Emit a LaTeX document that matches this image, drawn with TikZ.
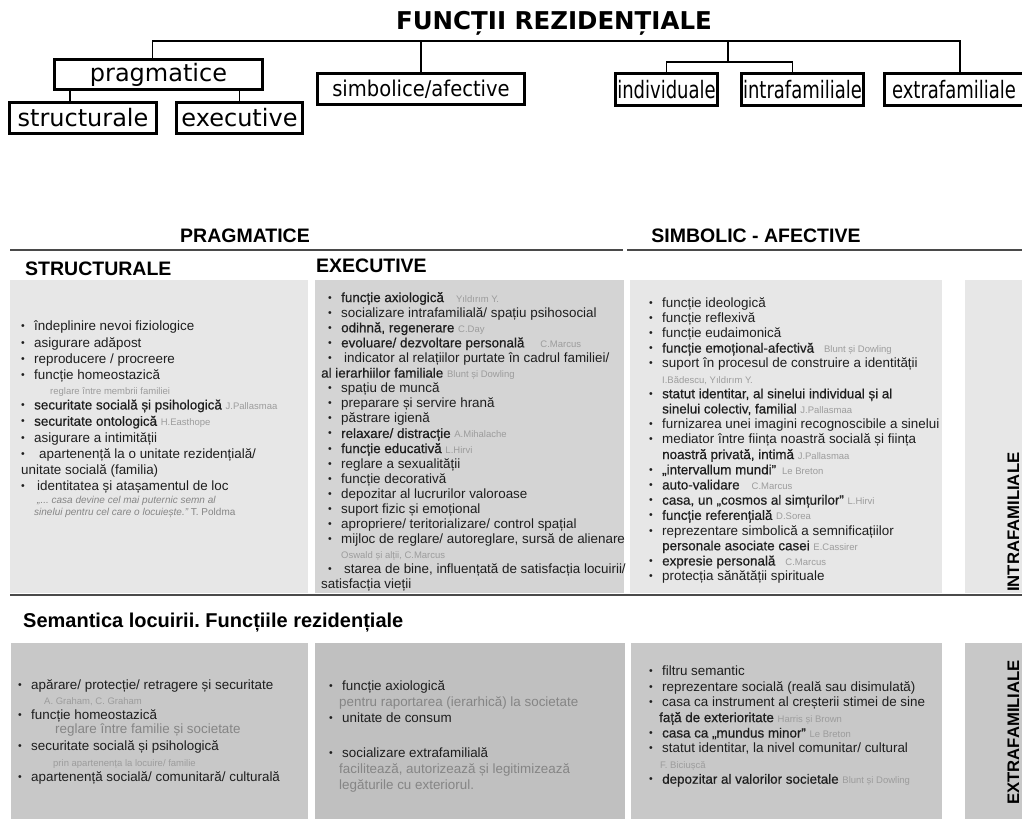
\documentclass[tikz,border=0pt]{standalone}
\usepackage{fontspec}
\setmainfont{Liberation Sans}
\newfontfamily\dvsans{DejaVu Sans}
\newfontfamily\dvcond[FakeStretch=0.9]{DejaVu Sans}
\newfontfamily\dvnarrow[FakeStretch=0.75]{DejaVu Sans}
\newfontfamily\medfont[FakeBold=0.6]{Liberation Sans}
\frenchspacing

\definecolor{txtgray}{HTML}{1E1E1E}
\definecolor{autgray}{HTML}{9C9C9C}
\definecolor{notegray}{HTML}{858585}
\definecolor{rulegray}{HTML}{4A4A4A}
\definecolor{lightpanel}{HTML}{E7E7E7}
\definecolor{midpanel}{HTML}{D4D4D4}
\definecolor{darkpanel}{HTML}{C8C8C8}
\definecolor{darkerpanel}{HTML}{C0C0C0}

\newcommand{\itm}{\makebox[13pt][l]{\raisebox{1pt}{\fontsize{10.5}{10.5}\selectfont\textbullet}}}
\newcommand{\aut}[1]{{\fontsize{9.5}{9.5}\selectfont\color{autgray}#1}}
\newcommand{\md}[1]{{\medfont #1}}
\newcommand{\note}[1]{{\color{notegray}#1}}

\tikzset{
  topbox/.style={draw, line width=2.8pt, fill=white, inner sep=0pt, font=\dvsans\fontsize{24}{24}\selectfont},
  treeline/.style={line width=1.3pt},
  panel/.style={fill=#1, draw=none, inner sep=0pt, anchor=north west},
  listtext/.style={anchor=north west, inner sep=0pt, align=left, text=txtgray, font=\fontsize{13.4}{15.1}\selectfont},
  head/.style={inner sep=0pt, font=\bfseries\fontsize{19.5}{19.5}\selectfont},
  sidehead/.style={inner sep=0pt, rotate=90, anchor=base west, font=\bfseries\fontsize{16.7}{16.7}\selectfont},
  rule/.style={draw=rulegray, line width=1.8pt},
}

\begin{document}
\begin{tikzpicture}[x=1pt,y=-1pt]

    \fill[white] (0,0) rectangle (1022,819);
    \useasboundingbox (0,0) rectangle (1022,819);

    % upper tree
    \node[inner sep=0pt, font=\dvsans\bfseries\fontsize{24.5}{24.5}\selectfont] (title) at (554,23) {FUNCȚII REZIDENȚIALE};
    \coordinate (bar) at (0,41);
    \coordinate (subbar) at (728,62);

    \node[topbox, minimum width=208.5, minimum height=30.5] (pragm) at (158.5,74.5) {pragmatice};
    \node[topbox, minimum width=147.5, minimum height=31.5] (strct) at (83,118) {structurale};
    \node[topbox, minimum width=126.5, minimum height=31.5] (exec) at (239.5,118) {executive};
    \node[topbox, minimum width=207.5, minimum height=31.5, font=\dvcond\fontsize{21.7}{21.7}\selectfont] (simb) at (421,89) {simbolice/afective};
    \node[topbox, minimum width=102.5, minimum height=32.5, font=\dvnarrow\fontsize{24}{24}\selectfont] (indiv) at (666.5,89.5) {individuale};
    \node[topbox, minimum width=122.5, minimum height=32.5, font=\dvnarrow\fontsize{24}{24}\selectfont] (intra) at (802.5,89.5) {intrafamiliale};
    \node[topbox, minimum width=151.5, minimum height=32.5, font=\dvnarrow\fontsize{24}{24}\selectfont] (extra) at (960,89.5) {\hspace*{-12pt}extrafamiliale};

    \draw[treeline] ([xshift=-6pt]pragm.north) |- (extra.north |- bar) -- (extra.north);
    \draw[treeline] (simb.north) -- (simb.north |- bar);
    \draw[treeline] (subbar) -- (subbar |- bar);
    \draw[treeline] (indiv.north) |- (subbar) -| ([xshift=-10pt]intra.north);
    \draw[treeline] ([xshift=-13pt]strct.north) -- ([xshift=-13pt]strct.north |- pragm.south);
    \draw[treeline] (exec.north) -- (exec.north |- pragm.south);

    % headings
    \node[head] (pragh) at (245,236) {PRAGMATICE};
    \node[head] (simbh) at (756,236) {SIMBOLIC - AFECTIVE};
    \draw[rule] (10,250) -- (623,250);
    \draw[rule] (627,250) -- (1022,250);
    \node[head, anchor=west] (strh) at (25,269) {STRUCTURALE};
    \node[head, anchor=west] (exeh) at (316,266) {EXECUTIVE};

    % upper panels
    \node[panel=lightpanel, minimum width=298, minimum height=313] (strpanel) at (10,280) {};
    \node[panel=midpanel, minimum width=309, minimum height=313] (exepanel) at (315,280) {};
    \node[panel=lightpanel, minimum width=312, minimum height=313] (simpanel) at (630,280) {};
    \node[panel=lightpanel, minimum width=57, minimum height=313] (intpanel) at (965,280) {};
    \node[sidehead] (intrah) at (1019,592) {INTRAFAMILIALE};
    \draw[rule] (10,595) -- (1022,595);

    \node[listtext, font=\fontsize{13.4}{16.3}\selectfont] (strlist) at (21,321) {%
\itm îndeplinire nevoi fiziologice\\
\itm asigurare adăpost\\
\itm reproducere / procreere\\
\itm funcție homeostazică\\[-1.5pt]
\hspace*{29pt}\aut{reglare între membrii familiei}\\[-1.5pt]
\itm \md{securitate socială și psihologică} \aut{J.Pallasmaa}\\
\itm \md{securitate ontologică} \aut{H.Easthope}\\
\itm asigurare a intimității\\
\itm\hspace{5pt}apartenență la o unitate rezidențială/\\
unitate socială (familia)\\
\itm\hspace{3pt}identitatea și atașamentul de loc\\[-4pt]
\hspace*{16pt}{\fontsize{10}{10}\selectfont\color{notegray}\itshape „... casa devine cel mai puternic semn al}\\[-4pt]
\hspace*{13pt}{\fontsize{10}{10}\selectfont\color{notegray}{\itshape sinelui pentru cel care o locuiește.”} T. Poldma}};

    \node[listtext] (exelist) at (328,292) {%
\itm \md{funcție axiologică}\hspace{12pt}\aut{Yıldırım Y.}\\
\itm socializare intrafamilială/ spațiu psihosocial\\
\itm \md{odihnă, regenerare} \aut{C.Day}\\
\itm \md{evoluare/ dezvoltare personală}\hspace{16pt}\aut{C.Marcus}\\
\itm\hspace{3pt}indicator al relațiilor purtate în cadrul familiei/\\
\hspace*{-7pt}\md{al ierarhiilor familiale} \aut{Blunt și Dowling}\\
\itm spațiu de muncă\\
\itm preparare și servire hrană\\
\itm păstrare igienă\\
\itm \md{relaxare/ distracție} \aut{A.Mihalache}\\
\itm \md{funcție educativă} \aut{L.Hirvi}\\
\itm reglare a sexualității\\
\itm funcție decorativă\\
\itm depozitar al lucrurilor valoroase\\
\itm suport fizic și emoțional\\
\itm apropriere/ teritorializare/ control spațial\\
\itm mijloc de reglare/ autoreglare, sursă de alienare\\
\hspace*{13pt}\aut{Oswald și alții, C.Marcus}\\
\itm\hspace{3pt}starea de bine, influențată de satisfacția locuirii/\\
\hspace*{-7pt}satisfacția vieții};

    \node[listtext, font=\fontsize{13.4}{15.2}\selectfont] (simlist) at (649,297) {%
\itm funcție ideologică\\
\itm funcție reflexivă\\
\itm funcție eudaimonică\\
\itm \md{funcție emoțional-afectivă}\hspace{10pt}\aut{Blunt și Dowling}\\
\itm suport în procesul de construire a identității\\
\hspace*{13pt}\aut{I.Bădescu, Yıldırım Y.}\\
\itm \md{statut identitar, al sinelui individual și al}\\
\hspace*{13pt}\md{sinelui colectiv, familial} \aut{J.Pallasmaa}\\
\itm furnizarea unei imagini recognoscibile a sinelui\\
\itm mediator între ființa noastră socială și ființa\\
\hspace*{13pt}\md{noastră privată, intimă} \aut{J.Pallasmaa}\\
\itm \md{„intervallum mundi”}\hspace{6pt}\aut{Le Breton}\\
\itm \md{auto-validare}\hspace{12pt}\aut{C.Marcus}\\
\itm \md{casa, un „cosmos al simțurilor”} \aut{L.Hirvi}\\
\itm \md{funcție referențială} \aut{D.Sorea}\\
\itm reprezentare simbolică a semnificațiilor\\
\hspace*{13pt}\md{personale asociate casei} \aut{E.Cassirer}\\
\itm \md{expresie personală}\hspace{10pt}\aut{C.Marcus}\\
\itm protecția sănătății spirituale};

    % lower part
    \node[inner sep=0pt, anchor=west, font=\bfseries\fontsize{20}{20}\selectfont] (semh) at (23,623) {Semantica locuirii. Funcțiile rezidențiale};

    \node[panel=darkpanel, minimum width=297, minimum height=176] (lstrpanel) at (11,643) {};
    \node[panel=darkerpanel, minimum width=310, minimum height=176] (lexepanel) at (315,643) {};
    \node[panel=darkpanel, minimum width=311, minimum height=176] (lsimpanel) at (631,643) {};
    \node[panel=darkpanel, minimum width=57, minimum height=176] (extpanel) at (965,643) {};
    \node[sidehead] (extrah) at (1019,805) {EXTRAFAMILIALE};

    \node[listtext, font=\fontsize{13.4}{15.4}\selectfont] (lstrlist) at (18,679) {%
\itm apărare/ protecție/ retragere și securitate\\
\hspace*{26pt}\aut{A. Graham, C. Graham}\\
\itm funcție homeostazică\\[-2pt]
\hspace*{37pt}\note{reglare între familie și societate}\\[2pt]
\itm securitate socială și psihologică\\
\hspace*{35pt}\aut{prin apartenența la locuire/ familie}\\
\itm apartenență socială/ comunitară/ culturală};

    \node[listtext, font=\fontsize{13.4}{16}\selectfont] (lexelist) at (329,680) {%
\itm funcție axiologică\\
\hspace*{10pt}\note{pentru raportarea (ierarhică) la societate}\\
\itm unitate de consum\\[19pt]
\itm socializare extrafamilială\\
\hspace*{10pt}\note{facilitează, autorizează și legitimizează}\\
\hspace*{10pt}\note{legăturile cu exteriorul.}};

    \node[listtext, font=\fontsize{13.4}{15.4}\selectfont] (lsimlist) at (649,666) {%
\itm filtru semantic\\
\itm reprezentare socială (reală sau disimulată)\\
\itm casa ca instrument al creșterii stimei de sine\\
\hspace*{10pt}\md{față de exterioritate} \aut{Harris și Brown}\\
\itm \md{casa ca „mundus minor”} \aut{Le Breton}\\
\itm statut identitar, la nivel comunitar/ cultural\\
\hspace*{11pt}\aut{F. Biciușcă}\\
\itm \md{depozitar al valorilor societale} \aut{Blunt și Dowling}};

\end{tikzpicture}
\end{document}
